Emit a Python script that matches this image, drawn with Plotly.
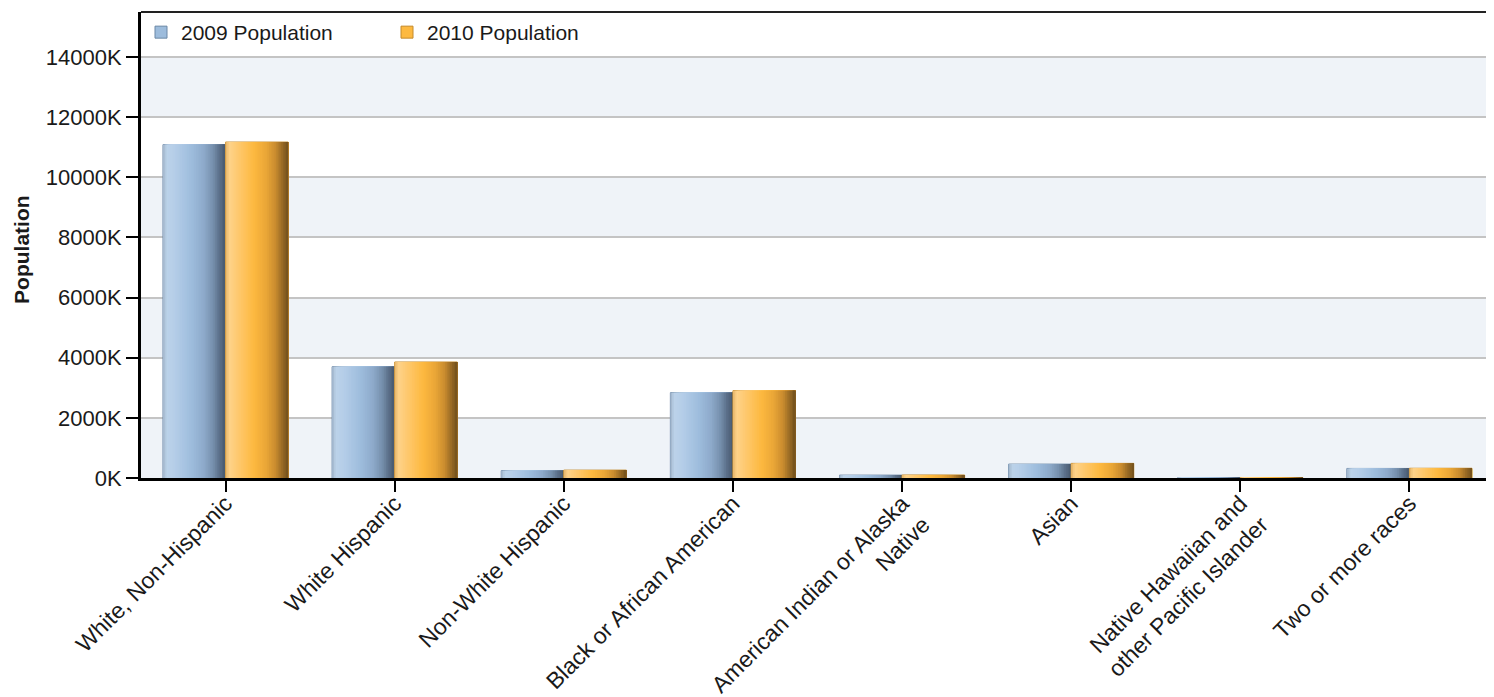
import plotly.graph_objects as go

# ---------------- data ----------------
categories = [
    "White, Non-Hispanic",
    "White Hispanic",
    "Non-White Hispanic",
    "Black or African American",
    "American Indian or Alaska<br>Native",
    "Asian",
    "Native Hawaiian and<br>other Pacific Islander",
    "Two or more races",
]
series_names = ["2009 Population", "2010 Population"]
pop_2009 = [11090000, 3701000, 243000, 2837000, 95000, 462000, 11000, 318000]
pop_2010 = [11174000, 3858000, 262000, 2904000, 100000, 486000, 12000, 324000]
y_tick_values = [0, 2000000, 4000000, 6000000, 8000000, 10000000, 12000000, 14000000]
y_tick_labels = ["0K", "2000K", "4000K", "6000K", "8000K", "10000K", "12000K", "14000K"]

# ---------------- styles ----------------
FONT = "Liberation Sans, Arial, sans-serif"
BAR_W = 0.37
N_STRIPS = 36
blue_keys = [(0.0, '#9fb3c9'), (0.06, '#bcd2e9'), (0.2, '#b4cde8'), (0.45, '#9ebddd'),
             (0.65, '#8eaacb'), (0.8, '#7690ad'), (0.9, '#5c708a'), (1.0, '#485a6f')]
orange_keys = [(0.0, '#e4b266'), (0.06, '#fed38a'), (0.2, '#fec96f'), (0.45, '#fdb940'),
               (0.65, '#eaa637'), (0.8, '#c98c2f'), (0.9, '#9b6c25'), (1.0, '#72501d')]
base_colors = ['#9dbcdc', '#fdb940']
base_lines = ['#6b87a6', '#c48a2a']


def _hex(c):
    return tuple(int(c[i:i + 2], 16) for i in (1, 3, 5))


def grad(keys, t):
    for (p0, c0), (p1, c1) in zip(keys[:-1], keys[1:]):
        if p0 <= t <= p1:
            f = (t - p0) / (p1 - p0) if p1 > p0 else 0
            a, b = _hex(c0), _hex(c1)
            return 'rgb(%d,%d,%d)' % tuple(round(a[i] + (b[i] - a[i]) * f) for i in range(3))
    return keys[-1][1]


fig = go.Figure()

for si, (vals, keys) in enumerate([(pop_2009, blue_keys), (pop_2010, orange_keys)]):
    start = -BAR_W if si == 0 else 0.0
    fig.add_trace(go.Bar(
        x=categories, y=vals, name=series_names[si],
        width=BAR_W, offset=start,
        marker=dict(color=base_colors[si], line=dict(color=base_lines[si], width=1)),
        showlegend=True, hoverinfo="skip",
    ))
    sw = BAR_W / N_STRIPS
    for k in range(N_STRIPS):
        t = (k + 0.5) / N_STRIPS
        fig.add_trace(go.Bar(
            x=categories, y=vals, name=series_names[si],
            width=BAR_W - k * sw, offset=start + k * sw,
            marker=dict(color=grad(keys, t), line=dict(width=0)),
            showlegend=False, hoverinfo="skip",
        ))

# alternating bands
shapes = []
for i in range(0, len(y_tick_values) - 1, 2):
    shapes.append(dict(type="rect", xref="paper", yref="y", x0=0, x1=1,
                       y0=y_tick_values[i], y1=y_tick_values[i + 1],
                       fillcolor="#eff3f8", line=dict(width=0), layer="below"))
# top frame line
shapes.append(dict(type="line", xref="paper", yref="paper", x0=0, x1=1, y0=1, y1=1,
                   line=dict(color="#222222", width=2)))

fig.update_layout(
    width=1486, height=689,
    margin=dict(l=133, r=0, t=4, b=219),
    paper_bgcolor="white", plot_bgcolor="white",
    barmode="overlay",
    font=dict(family=FONT, size=21, color="#1a1a1a"),
    shapes=shapes,
    legend=dict(orientation="h", x=0, y=1, xanchor="left", yanchor="top",
                bgcolor="rgba(0,0,0,0)", font=dict(size=21, color="#1a1a1a"),
                entrywidth=201, entrywidthmode="pixels"),
    xaxis=dict(type="category", range=[-0.5, len(categories) - 0.5],
               automargin=False,
               showline=True, linecolor="#000000", linewidth=3,
               ticks="outside", ticklen=11, tickwidth=2, tickcolor="#000000",
               tickangle=-45, tickfont=dict(size=23, color="#1a1a1a"),
               ticklabelstandoff=-11,
               showgrid=False, zeroline=False),
    yaxis=dict(range=[0, 15500000], automargin=False,
               tickvals=y_tick_values, ticktext=y_tick_labels,
               showline=True, linecolor="#000000", linewidth=3,
               ticks="outside", ticklen=12, tickwidth=2, tickcolor="#000000",
               tickfont=dict(size=22, color="#1a1a1a"),
               showgrid=True, gridcolor="#c4c4c4", gridwidth=2,
               zeroline=False),
    annotations=[dict(text="<b>Population</b>", xref="paper", yref="paper",
                      x=-0.0885, y=0.49, xanchor="center", yanchor="middle",
                      textangle=-90, showarrow=False, borderpad=0,
                      font=dict(family=FONT, size=21, color="#1a1a1a"))],
)

fig.write_html("out.html")
